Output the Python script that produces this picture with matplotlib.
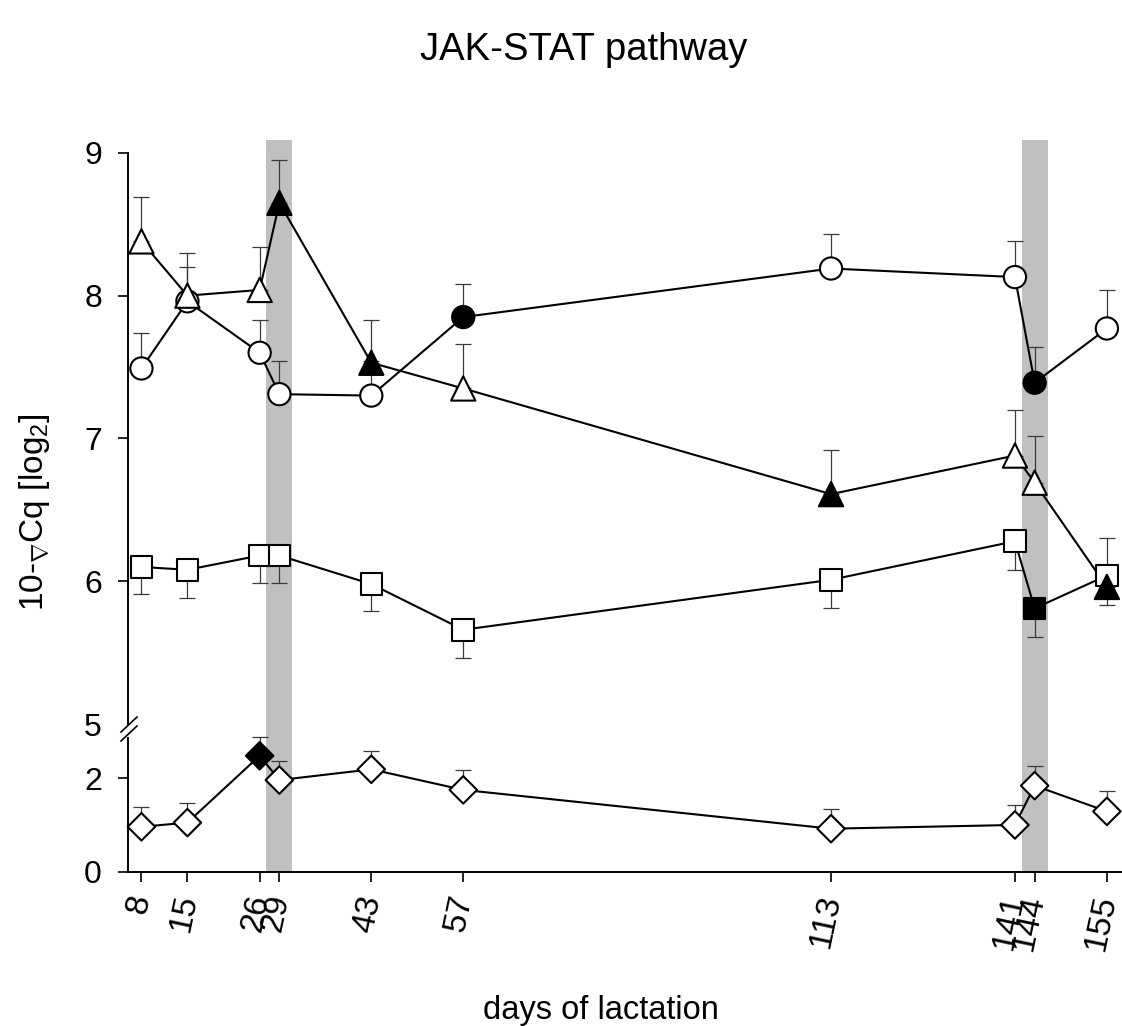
import numpy as np
import matplotlib.pyplot as plt
from matplotlib.lines import Line2D
from matplotlib.patches import Rectangle
from matplotlib import transforms

plt.rcParams['font.family'] = ['Liberation Sans', 'DejaVu Sans']
plt.rcParams['mathtext.fontset'] = 'custom'
plt.rcParams['mathtext.rm'] = 'Liberation Sans'
plt.rcParams['mathtext.it'] = 'Liberation Sans:italic'

# sampling days and the four genes (mean, one-sided error)
days = [8, 15, 26, 29, 43, 57, 113, 141, 144, 155]

circle_y = [7.49, 7.96, 7.60, 7.31, 7.30, 7.85, 8.19, 8.13, 7.39, 7.77]
circle_err = [0.25, 0.24, 0.23, 0.23, 0.24, 0.23, 0.24, 0.25, 0.25, 0.27]
circle_sig = [0, 0, 0, 0, 0, 1, 0, 0, 1, 0]

square_y = [6.10, 6.08, 6.18, 6.18, 5.98, 5.66, 6.01, 6.28, 5.81, 6.04]
square_err = [0.19, 0.20, 0.19, 0.19, 0.19, 0.20, 0.20, 0.20, 0.20, 0.21]
square_sig = [0, 0, 0, 0, 0, 0, 0, 0, 1, 0]

triangle_y = [8.38, 8.00, 8.04, 8.65, 7.53, 7.35, 6.61, 6.88, 6.69, 5.96]
triangle_err = [0.31, 0.30, 0.30, 0.30, 0.30, 0.31, 0.31, 0.32, 0.33, 0.34]
triangle_sig = [0, 0, 0, 1, 1, 0, 1, 0, 0, 1]

diamond_y = [0.96, 1.05, 2.48, 1.96, 2.19, 1.75, 0.92, 1.00, 1.84, 1.29]
diamond_err = [0.42, 0.41, 0.41, 0.41, 0.40, 0.43, 0.42, 0.43, 0.42, 0.44]
diamond_sig = [0, 0, 1, 0, 0, 0, 0, 0, 0, 0]

# shaded periods (days)
bands = [(27, 31), (142, 146)]

W, H = 1122, 1026
fig = plt.figure(figsize=(W / 100, H / 100), dpi=100)


def fx(px):
    return px / W


def fy(py):
    return 1 - py / H


left = fx(128.3)
ax_top = fig.add_axes([left, fy(724), 1 - left, fy(140) - fy(724)])
ax_bot = fig.add_axes([left, fy(871.7), 1 - left, fy(738) - fy(871.7)], sharex=ax_top)

for ax in (ax_top, ax_bot):
    ax.set_facecolor('none')
    ax.spines['top'].set_visible(False)
    ax.spines['right'].set_visible(False)
    for s in ax.spines.values():
        s.set_linewidth(1.4)
    ax.tick_params(direction='out', length=7, width=1.2, labelsize=23, pad=12)

ax_top.set_xlim(6, 157.3)
ax_top.set_ylim(5, 9.09)
ax_bot.set_ylim(0, 2.86)
ax_top.spines['bottom'].set_visible(False)
ax_top.spines['left'].set_bounds(5, 9)
ax_top.tick_params(axis='x', bottom=False, labelbottom=False)
ax_top.set_yticks([5, 6, 7, 8, 9])
ax_top.yaxis.get_major_ticks()[0].tick1line.set_visible(False)
ax_bot.set_yticks([0, 2])

ax_bot.set_xticks(days)
ax_bot.set_xticklabels([str(d) for d in days])
ax_bot.tick_params(axis='x', pad=10, labelsize=24)
for lbl in ax_bot.get_xticklabels():
    lbl.set_rotation(78)
    lbl.set_ha('right')
    lbl.set_va('center')
    lbl.set_rotation_mode('anchor')

# grey bands run through both panels and the gap
band_tr = transforms.blended_transform_factory(ax_bot.transData, fig.transFigure)
for a, b in bands:
    fig.add_artist(Rectangle((a, fy(871.7)), b - a, fy(140) - fy(871.7),
                             transform=band_tr, facecolor='#c0c0c0',
                             edgecolor='none', zorder=-1))


def draw_series(ax, y, err, sig, marker, ms, up=True):
    y = np.asarray(y)
    err = np.asarray(err)
    zero = np.zeros_like(err)
    yerr = [zero, err] if up else [err, zero]
    ax.errorbar(days, y, yerr=yerr, fmt='none', ecolor='#3a3a3a',
                elinewidth=0.9, capsize=6, capthick=0.9, zorder=2, clip_on=False)
    ax.plot(days, y, color='black', lw=1.5, zorder=3, clip_on=False)
    faces = ['black' if s else 'white' for s in sig]
    ax.scatter(days, y, s=ms ** 2, marker=marker, facecolors=faces,
               edgecolors='black', linewidths=1.5, zorder=4, clip_on=False)


draw_series(ax_top, circle_y, circle_err, circle_sig, 'o', 16)
draw_series(ax_top, square_y, square_err, square_sig, 's', 15.5, up=False)
draw_series(ax_top, triangle_y, triangle_err, triangle_sig, '^', 17.5)
draw_series(ax_bot, diamond_y, diamond_err, diamond_sig, 'D', 14)

# axis break marks
for dy in (0, 9):
    fig.add_artist(Line2D([fx(121), fx(137)], [fy(732 + dy), fy(717 + dy)],
                          transform=fig.transFigure, color='black', lw=1.2))

fig.text(fx(584), fy(50), 'JAK-STAT pathway', ha='center', va='center', fontsize=27.5)
fig.text(fx(601), fy(1010), 'days of lactation', ha='center', va='center', fontsize=23.5)
fig.text(fx(35), fy(512), r'10-$_{\nabla}$Cq [log$_2$]', rotation=90,
         ha='center', va='center', fontsize=24)

fig.savefig('out.png', dpi=100)
